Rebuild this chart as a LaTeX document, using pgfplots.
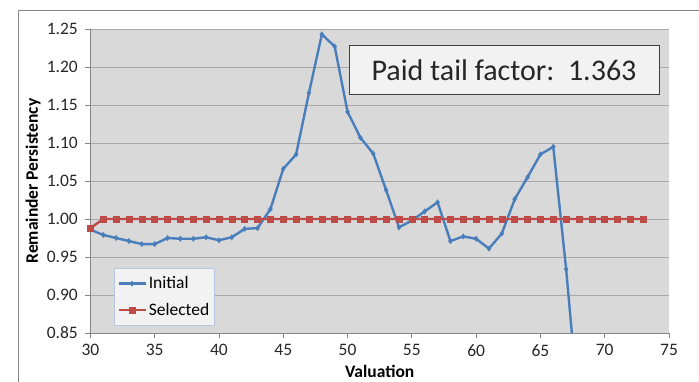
\documentclass[border=0pt]{standalone}
\usepackage{fontspec}
\setmainfont{Carlito}
\usepackage{pgfplots}
\pgfplotsset{compat=1.18}

\definecolor{seriesblue}{HTML}{4A7EBB}
\definecolor{seriesred}{HTML}{BE4B48}
\definecolor{plotbg}{HTML}{D9D9D9}
\definecolor{gridgray}{HTML}{A8A8A8}
\definecolor{axisgray}{HTML}{868686}
\definecolor{boxfill}{HTML}{F2F2F2}
\definecolor{legendedge}{HTML}{B4C8E2}

\begin{document}
\begin{tikzpicture}[x=1pt,y=1pt]
% page frame
\useasboundingbox (0,0) rectangle (699,382);
\draw[axisgray, line width=0.8pt] (18,0) -- (18,372) -- (699,372);

\begin{axis}[
  at={(90.4pt,49pt)}, anchor=south west,
  scale only axis, width=578.6pt, height=304pt,
  xmin=30, xmax=75, ymin=0.85, ymax=1.25,
  xtick={30,35,...,75},
  ytick={0.85,0.90,...,1.26},
  /pgf/number format/assume math mode=true,
  tick label style={font=\fontsize{17.5}{20}\selectfont, text=black!85},
  xticklabel style={yshift=-3pt},
  yticklabel style={xshift=-4pt, /pgf/number format/.cd, fixed, fixed zerofill, precision=2},
  tick align=outside,
  major tick length=5pt,
  tick style={axisgray, line width=0.8pt},
  xtick pos=bottom, ytick pos=left,
  axis line style={axisgray, line width=0.8pt},
  axis x line*=bottom, axis y line*=left,
  axis background/.style={fill=plotbg},
  ymajorgrids, grid style={gridgray, line width=0.9pt},
  xlabel={\textbf{Valuation}},
  ylabel={\textbf{Remainder Persistency}},
  label style={font=\fontsize{17.5}{20}\selectfont},
  xlabel style={at={(axis description cs:0.5,-0.125)}, anchor=center},
  ylabel style={at={(axis description cs:-0.0992,0.5)}, anchor=center},
  legend style={at={(axis description cs:0.0408,0.023)}, anchor=south west,
    fill=boxfill, draw=legendedge, line width=0.8pt,
    font=\fontsize{17.5}{20}\selectfont,
    inner xsep=3pt, inner ysep=6.5pt, row sep=9pt},
  legend cell align=left,
  legend image code/.code={%
    \draw[mark repeat=2, mark phase=2, #1] plot coordinates {(0pt,0pt) (13.5pt,0pt) (27pt,0pt)};},
]

% Initial
\addplot[seriesblue, line width=2.4pt, mark=diamond*, mark size=2.6pt,
  mark options={line width=0.5pt}] coordinates {
  (30,0.986) (31,0.979) (32,0.975) (33,0.971) (34,0.967) (35,0.967)
  (36,0.975) (37,0.974) (38,0.974) (39,0.976) (40,0.972) (41,0.976)
  (42,0.987) (43,0.988) (44,1.013) (45,1.066) (46,1.085) (47,1.166)
  (48,1.243) (49,1.227) (50,1.141) (51,1.107) (52,1.086) (53,1.038)
  (54,0.989) (55,0.998) (56,1.010) (57,1.022) (58,0.971) (59,0.977)
  (60,0.974) (61,0.961) (62,0.981) (63,1.026) (64,1.055) (65,1.085)
  (66,1.095) (67,0.934)
};
\addlegendentry{Initial}

% Selected
\addplot[seriesred, line width=2.4pt, mark=square*, mark size=3pt,
  mark options={line width=0.5pt}] coordinates {
  (30,0.988) (31,1) (32,1) (33,1) (34,1) (35,1) (36,1) (37,1) (38,1)
  (39,1) (40,1) (41,1) (42,1) (43,1) (44,1) (45,1) (46,1) (47,1) (48,1)
  (49,1) (50,1) (51,1) (52,1) (53,1) (54,1) (55,1) (56,1) (57,1) (58,1)
  (59,1) (60,1) (61,1) (62,1) (63,1) (64,1) (65,1) (66,1) (67,1) (68,1)
  (69,1) (70,1) (71,1) (72,1) (73,1)
};
\addlegendentry{Selected}

% Initial continues below the axis floor
\addplot[seriesblue, line width=2.4pt, forget plot] coordinates {
  (67,0.934) (68,0.745)
};
\end{axis}

\node[draw=black!75, fill=boxfill, line width=1pt,
  minimum width=310pt, minimum height=49pt, inner sep=0pt,
  font=\fontsize{30}{34}\selectfont, text=black!85]
  at (504,311.5) {Paid tail factor:\ \ 1.363};
\end{tikzpicture}
\end{document}
